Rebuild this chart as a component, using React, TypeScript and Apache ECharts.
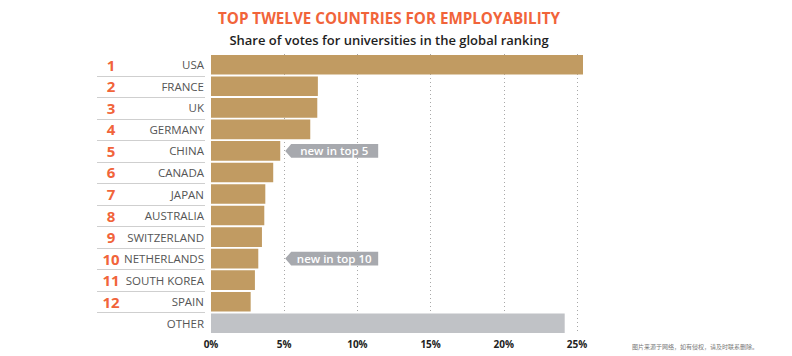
import React, { useEffect, useRef } from "react";
import * as echarts from "echarts";

const countries = [
  "USA", "FRANCE", "UK", "GERMANY", "CHINA", "CANADA", "JAPAN",
  "AUSTRALIA", "SWITZERLAND", "NETHERLANDS", "SOUTH KOREA", "SPAIN", "OTHER",
];
const ranks = ["1", "2", "3", "4", "5", "6", "7", "8", "9", "10", "11", "12", ""];
const shares = [25.41, 7.3, 7.26, 6.78, 4.73, 4.25, 3.71, 3.64, 3.48, 3.23, 3.0, 2.71, 24.16];
const callouts = [
  { country: "CHINA", text: "new in top 5", at: 5 },
  { country: "NETHERLANDS", text: "new in top 10", at: 5 },
];
const titleText = "TOP TWELVE COUNTRIES FOR EMPLOYABILITY";
const subtitleText = "Share of votes for universities in the global ranking";
const watermark = "图片来源于网络，如有侵权，请及时联系删除。";

const FONT = "'Open Sans', 'Noto Sans', sans-serif";
const GOLD = "#c19b62";
const GREY_BAR = "#c0c2c6";
const ORANGE = "#f1643a";

export default function App() {
  const ref = useRef<HTMLDivElement>(null);
  useEffect(() => {
    if (!ref.current) return;
    const chart = echarts.init(ref.current, undefined, { renderer: "svg" });
    chart.setOption({
      animation: false,
      grid: { left: 211, right: 215, top: 54, bottom: 22, containLabel: false },
      xAxis: {
        type: "value",
        min: 0,
        max: 25,
        interval: 5,
        axisLine: { show: false },
        axisTick: { show: false },
        axisLabel: {
          formatter: "{value}%",
          color: "#222",
          fontSize: 10,
          fontWeight: "bold",
          fontFamily: FONT,
          margin: 5,
        },
        splitLine: {
          show: true,
          showMinLine: false,
          lineStyle: { color: "#a8a8a8", type: [1, 3], width: 1 },
        },
      },
      yAxis: [
        {
          type: "category",
          inverse: true,
          data: countries,
          position: "left",
          axisLine: { show: false },
          axisTick: { show: false },
          axisLabel: {
            color: "#555",
            fontSize: 11.5,
            fontFamily: FONT,
            margin: 7,
          },
        },
        {
          type: "category",
          inverse: true,
          data: ranks,
          position: "left",
          axisLine: { show: false },
          axisTick: { show: false },
          axisLabel: {
            color: ORANGE,
            fontSize: 15,
            fontWeight: "bold",
            fontFamily: FONT,
            align: "center",
            margin: 100,
          },
        },
      ],
      series: [
        {
          type: "bar",
          yAxisIndex: 0,
          barCategoryGap: "9%",
          clip: false,
          data: shares.map((v, i) => ({
            value: v,
            itemStyle: { color: countries[i] === "OTHER" ? GREY_BAR : GOLD },
          })),
        },
      ],
    });

    const yc = (i: number) => chart.convertToPixel({ yAxisIndex: 0 }, countries[i]) as number;
    const graphics: any[] = [];
    graphics.push({
      type: "text",
      x: 389,
      y: 18,
      style: {
        text: titleText,
        fill: ORANGE,
        font: `bold 15.2px ${FONT}`,
        textAlign: "center",
        textVerticalAlign: "middle",
      },
    });
    graphics.push({
      type: "text",
      x: 389,
      y: 40,
      style: {
        text: subtitleText,
        fill: "#1e1e1e",
        font: `600 13px ${FONT}`,
        textAlign: "center",
        textVerticalAlign: "middle",
      },
    });
    for (let i = 1; i < countries.length; i++) {
      const y = Math.round((yc(i - 1) + yc(i)) / 2) + 0.5;
      graphics.push({
        type: "line",
        shape: { x1: 97, y1: y, x2: 205, y2: y },
        style: { stroke: "#cfcfcf", lineWidth: 1 },
      });
    }
    callouts.forEach((c) => {
      const idx = countries.indexOf(c.country);
      const cy = yc(idx);
      const x0 = (chart.convertToPixel({ xAxisIndex: 0 }, c.at) as number) + 1;
      const h = 6.8;
      graphics.push({
        type: "polygon",
        shape: {
          points: [
            [x0, cy],
            [x0 + 6, cy - h],
            [x0 + 93, cy - h],
            [x0 + 93, cy + h],
            [x0 + 6, cy + h],
          ],
        },
        style: { fill: "#a7a9ae" },
      });
      graphics.push({
        type: "text",
        x: x0 + 49,
        y: cy,
        style: {
          text: c.text,
          fill: "#ffffff",
          font: `600 11.5px ${FONT}`,
          textAlign: "center",
          textVerticalAlign: "middle",
        },
      });
    });
    graphics.push({
      type: "text",
      x: 632,
      y: 346,
      style: {
        text: watermark,
        fill: "#777",
        font: `6px 'Noto Sans CJK SC', sans-serif`,
        textAlign: "left",
        textVerticalAlign: "middle",
      },
    });
    chart.setOption({ graphic: graphics });

    return () => chart.dispose();
  }, []);
  return (
    <div
      ref={ref}
      style={{ position: "fixed", left: 0, top: 0, width: 792, height: 356, background: "#fff" }}
    />
  );
}
